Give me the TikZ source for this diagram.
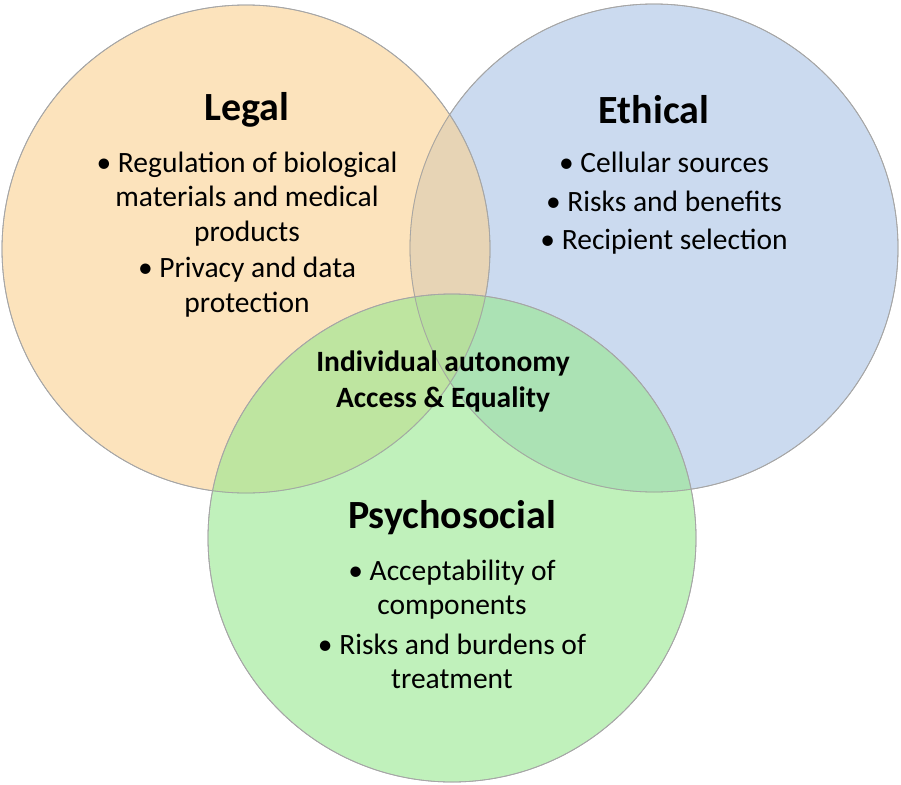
\documentclass[tikz,border=0pt]{standalone}
\usepackage{fontspec}
\setmainfont{Carlito}
\begin{document}
\begin{tikzpicture}[x=1pt,y=-1pt,
 circ/.style={draw=gray!70,line width=0.8pt,fill opacity=0.6},
 ttl/.style={font=\fontsize{40}{46}\selectfont\bfseries,anchor=center},
 txt/.style={font=\fontsize{29.5}{34.5}\selectfont,align=center,anchor=north},
 mid/.style={font=\fontsize{29.5}{36}\selectfont\bfseries,align=center}]
\useasboundingbox (0,0) rectangle (901,784);
\definecolor{cleg}{HTML}{FAD08F}
\definecolor{ceth}{HTML}{A9C2E4}
\definecolor{cpsy}{HTML}{96E78E}
\fill[ceth,circ] (654,248) circle (244);
\fill[cleg,circ] (246,249) circle (244);
\fill[cpsy,circ] (452,538) circle (244);
\draw[gray!70,line width=0.8pt] (246,249) circle (244) (654,248) circle (244) (452,538) circle (244);
\node[ttl] (lt) at (247,110) {Legal};
\node[txt] (lb) at (247,148) {• Regulation of biological\\materials and medical\\products\\[2pt]• Privacy and data\\protection};
\node[ttl] (et) at (654,110) {Ethical};
\node[txt] (eb) at (664,148) {• Cellular sources\\[5pt]• Risks and benefits\\[3pt]• Recipient selection};
\node[mid] (m) at (443,381) {Individual autonomy\\Access \& Equality};
\node[ttl] (pt) at (452,518) {Psychosocial};
\node[txt] (pb) at (452,556) {• Acceptability of\\components\\[5pt]• Risks and burdens of\\treatment};
\end{tikzpicture}
\end{document}
